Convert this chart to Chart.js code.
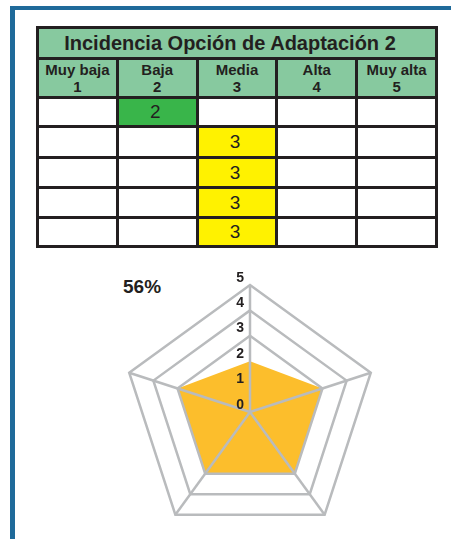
<!DOCTYPE html>
<html>
<head>
<meta charset="utf-8">
<script src="https://cdn.jsdelivr.net/npm/chart.js@4/dist/chart.umd.min.js"></script>
<style>
  body { margin: 0; background: #fff; width: 451px; height: 539px; overflow: hidden; position: relative; font-family: "Liberation Sans", Arial, sans-serif; color: #231f20; }
  #frame { position: absolute; left: 10px; top: 6px; width: 460px; height: 530px; border-top: 4px solid #1f6a9a; border-left: 5px solid #1f6a9a; border-bottom: 3px solid #1f6a9a; }
  #grid { position: absolute; left: 36px; top: 26px; width: 396px; padding: 3px; background: #231f20;
          display: grid; grid-template-columns: repeat(5, 1fr); grid-template-rows: 28px 36px 26px 28px 27px 27px 26px; gap: 3px; }
  #grid div { display: flex; align-items: center; justify-content: center; background: #fff; }
  #grid .title { grid-column: span 5; background: #87c99f; font-weight: bold; font-size: 20px; padding-right: 14px; }
  #grid .head { background: #87c99f; font-weight: bold; font-size: 15px; line-height: 16.5px; text-align: center; align-items: flex-start; padding-top: 2px; }
  #grid .val { font-size: 19px; padding-right: 4px; }
  #pct { position: absolute; left: 123px; top: 277px; font-weight: bold; font-size: 19px; line-height: 19px; }
  #wrap { position: absolute; left: 100px; top: 262px; width: 300px; height: 300px; }
</style>
</head>
<body>
<div id="frame"></div>
<div id="grid"></div>
<div id="pct"></div>
<div id="wrap"><canvas id="radar" width="300" height="300"></canvas></div>
<script>
const chartTitle = 'Incidencia Opción de Adaptación 2';
const levels = ['Muy baja', 'Baja', 'Media', 'Alta', 'Muy alta'];
const levelNumbers = [1, 2, 3, 4, 5];
const criteria = ['1', '2', '3', '4', '5'];
const incidence = [2, 3, 3, 3, 3];
const tickValues = [0, 1, 2, 3, 4, 5];

const cellColors = { 2: '#39b54a', 3: '#fff200' };

// table
const grid = document.getElementById('grid');
const addCell = (cls, html, bg) => {
    const d = document.createElement('div');
    d.className = cls;
    d.innerHTML = html;
    if (bg) d.style.background = bg;
    grid.appendChild(d);
};
addCell('title', chartTitle);
levels.forEach((lv, i) => addCell('head', lv + '<br>' + levelNumbers[i]));
incidence.forEach(v => {
    levelNumbers.forEach(n => {
        if (n === v) addCell('val', String(v), cellColors[v]);
        else addCell('val', '');
    });
});

const maxLevel = levelNumbers[levelNumbers.length - 1];
const total = incidence.reduce((a, b) => a + b, 0);
document.getElementById('pct').textContent = Math.round(total / (incidence.length * maxLevel) * 100) + '%';

// tick labels left of the vertical axis
const tickLabelPlugin = {
    id: 'tickLabels',
    afterDraw(chart) {
        const scale = chart.scales.r;
        const ctx = chart.ctx;
        ctx.save();
        ctx.font = 'bold 14px "Liberation Sans", Arial, sans-serif';
        ctx.fillStyle = '#231f20';
        ctx.textAlign = 'right';
        ctx.textBaseline = 'alphabetic';
        tickValues.forEach(v => {
            const y = scale.yCenter - scale.getDistanceFromCenterForValue(v);
            ctx.fillText(String(v), scale.xCenter - 6, y - 3.5);
        });
        ctx.restore();
    }
};

const gray = '#b9bbbd';
new Chart(document.getElementById('radar').getContext('2d'), {
    type: 'radar',
    data: {
        labels: criteria,
        datasets: [{
            data: incidence,
            backgroundColor: '#fcbe2c',
            borderWidth: 0,
            pointRadius: 0,
            fill: true
        }]
    },
    options: {
        responsive: false,
        animation: false,
        layout: { padding: 23 },
        plugins: { legend: { display: false }, tooltip: { enabled: false } },
        scales: {
            r: {
                min: tickValues[0],
                max: tickValues[tickValues.length - 1],
                ticks: { display: false, stepSize: 1 },
                pointLabels: { display: false },
                angleLines: { color: gray, lineWidth: 2.5 },
                grid: {
                    z: 1,
                    lineWidth: 2.5,
                    color: c => (c.tick && c.tick.value >= 3) ? gray : 'rgba(0,0,0,0)'
                }
            }
        }
    },
    plugins: [tickLabelPlugin]
});
</script>
</body>
</html>
